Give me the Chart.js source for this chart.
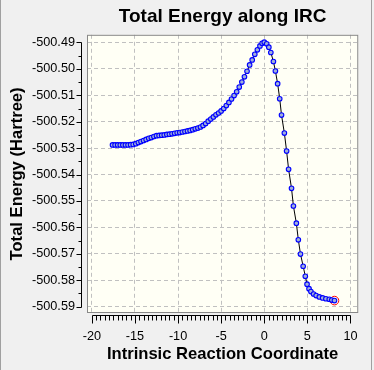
<!DOCTYPE html>
<html>
<head>
<meta charset="utf-8">
<title>Total Energy along IRC</title>
<script src="https://cdn.jsdelivr.net/npm/chart.js@4.4.1/dist/chart.umd.min.js"></script>
<style>
  html, body { margin: 0; padding: 0; background: #f0f0f0; }
  canvas { display: block; }
</style>
</head>
<body>
<canvas id="myChart" width="374" height="370"></canvas>
<script>
// IRC coordinate and total energy (Hartree)
const irc = [
  -17.6, -17.3, -17.0, -16.7, -16.4, -16.1, -15.8, -15.5, -15.2, -14.9,
  -14.6, -14.3, -14.0, -13.7, -13.4, -13.1, -12.8, -12.5, -12.2, -11.9,
  -11.6, -11.3, -11.0, -10.7, -10.4, -10.1, -9.8, -9.5, -9.2, -8.9,
  -8.6, -8.3, -8.0, -7.7, -7.4, -7.1, -6.8, -6.5, -6.2, -5.9,
  -5.6, -5.3, -5.0, -4.7, -4.4, -4.1, -3.8, -3.5, -3.2, -2.9,
  -2.6, -2.3, -2.0, -1.7, -1.4, -1.1, -0.8, -0.5, -0.25,
  0.0, 0.28, 0.53, 0.76, 1.06, 1.29, 1.55, 1.79, 2.0, 2.33,
  2.59, 2.82, 3.16, 3.38, 3.72, 3.95, 4.2, 4.51, 4.76, 4.96,
  5.19, 5.41, 5.72, 6.02, 6.39, 6.77, 7.15, 7.54, 7.83, 8.14,
];
const energy = [
  -500.5288, -500.5288, -500.5288, -500.5288, -500.5288, -500.5288, -500.5288, -500.5287, -500.5286, -500.5283,
  -500.5279, -500.5275, -500.5271, -500.5267, -500.5263, -500.526, -500.5256, -500.5253, -500.5252, -500.5251,
  -500.525, -500.5248, -500.5247, -500.5246, -500.5244, -500.5242, -500.5241, -500.5239, -500.5237, -500.5235,
  -500.5233, -500.523, -500.5227, -500.5224, -500.522, -500.5214, -500.5207, -500.5198, -500.519, -500.5182,
  -500.5174, -500.5167, -500.5159, -500.515, -500.5139, -500.5127, -500.5114, -500.5101, -500.5087, -500.5069,
  -500.505, -500.503, -500.5009, -500.4985, -500.4966, -500.4945, -500.4928, -500.4913, -500.4903,
  -500.4899, -500.4905, -500.4918, -500.4938, -500.4972, -500.5008, -500.5056, -500.5113, -500.5175, -500.5243,
  -500.5311, -500.538, -500.5452, -500.5519, -500.5584, -500.5647, -500.5701, -500.5747, -500.5785, -500.5815,
  -500.5832, -500.5843, -500.5852, -500.5858, -500.5863, -500.5867, -500.587, -500.5872, -500.5875, -500.5877,
];

const xTicks = [-20, -15, -10, -5, 0, 5, 10];
const yTicks = [-500.49, -500.50, -500.51, -500.52, -500.53, -500.54, -500.55, -500.56, -500.57, -500.58, -500.59];
const xMinorStep = 0.5;
const yMinorStep = 0.005;

const FONT = "'Liberation Sans', Arial, sans-serif";

const points = irc.map((x, i) => ({ x: x, y: energy[i] }));
const last = points[points.length - 1];

// background, plot area fill, window edges
const backdrop = {
  id: "backdrop",
  beforeDraw(chart) {
    const { ctx, chartArea: a, width, height } = chart;
    ctx.save();
    ctx.fillStyle = "#f0f0f0";
    ctx.fillRect(0, 0, width, height);
    ctx.fillStyle = "#fffff5";
    ctx.fillRect(a.left, a.top, a.right - a.left, a.bottom - a.top);
    ctx.strokeStyle = "#a0a0a0";
    ctx.lineWidth = 1;
    ctx.beginPath();
    ctx.moveTo(0.5, 0);
    ctx.lineTo(0.5, height);
    ctx.moveTo(371.5, 0);
    ctx.lineTo(371.5, height);
    ctx.stroke();
    ctx.restore();
  },
};

// plot frame and the ruler-style axes with minor ticks
const rulers = {
  id: "rulers",
  afterDraw(chart) {
    const { ctx, chartArea: a } = chart;
    const xs = chart.scales.x;
    const ys = chart.scales.y;
    ctx.save();
    ctx.lineWidth = 1;
    ctx.strokeStyle = "#888888";
    ctx.strokeRect(a.left + 0.5, a.top + 0.5, a.right - a.left - 1, a.bottom - a.top - 1);

    ctx.strokeStyle = "#000000";
    ctx.beginPath();
    // y ruler
    const yx = a.left - 5.5;
    const yTop = ys.getPixelForValue(yTicks[0]);
    const yBot = ys.getPixelForValue(yTicks[yTicks.length - 1]);
    ctx.moveTo(yx, Math.round(yTop) + 0.5);
    ctx.lineTo(yx, Math.round(yBot) + 0.5);
    const ny = Math.round((yTicks[0] - yTicks[yTicks.length - 1]) / yMinorStep);
    for (let k = 0; k <= ny; k++) {
      const py = Math.round(ys.getPixelForValue(yTicks[0] - k * yMinorStep)) + 0.5;
      const len = k % 2 === 0 ? 5 : 3;
      ctx.moveTo(yx, py);
      ctx.lineTo(yx - len, py);
    }
    // x ruler
    const xy = a.bottom + 2.5;
    const xL = xs.getPixelForValue(xTicks[0]);
    const xR = xs.getPixelForValue(xTicks[xTicks.length - 1]);
    ctx.moveTo(Math.round(xL) + 0.5, xy);
    ctx.lineTo(Math.round(xR) + 0.5, xy);
    const nx = Math.round((xTicks[xTicks.length - 1] - xTicks[0]) / xMinorStep);
    for (let k = 0; k <= nx; k++) {
      const px = Math.round(xs.getPixelForValue(xTicks[0] + k * xMinorStep)) + 0.5;
      const len = k % 10 === 0 ? 8 : 5;
      ctx.moveTo(px, xy);
      ctx.lineTo(px, xy + len);
    }
    ctx.stroke();
    ctx.restore();
  },
};

new Chart(document.getElementById("myChart").getContext("2d"), {
  type: "scatter",
  data: {
    datasets: [
      {
        label: "IRC",
        data: points,
        showLine: true,
        borderColor: "#000000",
        borderWidth: 1,
        pointRadius: 2.3,
        pointBorderWidth: 1.1,
        pointBackgroundColor: "#a0b0d8",
        pointBorderColor: "#0000ff",
      },
      {
        label: "current",
        data: [last],
        showLine: false,
        pointRadius: 4.3,
        pointBorderWidth: 1,
        pointBackgroundColor: "rgba(0,0,0,0)",
        pointBorderColor: "#ff0000",
      },
    ],
  },
  options: {
    responsive: false,
    animation: false,
    devicePixelRatio: 1,
    layout: { padding: { left: 0, right: 8, top: 0, bottom: 0 } },
    plugins: {
      legend: { display: false },
      tooltip: { enabled: false },
      title: {
        display: true,
        text: "Total Energy along IRC",
        color: "#000000",
        fullSize: false,
        font: { family: FONT, size: 19, weight: "bold" },
        padding: { top: 5, bottom: 7 },
      },
    },
    scales: {
      x: {
        type: "linear",
        min: -20.56,
        max: 10.9,
        afterBuildTicks: (s) => {
          s.ticks = xTicks.map((v) => ({ value: v }));
        },
        afterFit: (s) => {
          s.height = 57;
        },
        ticks: {
          autoSkip: false,
          maxRotation: 0,
          padding: 16,
          color: "#000000",
          font: { family: FONT, size: 12.7 },
          callback: (v) => String(v),
        },
        grid: { color: "#c0c0c0", lineWidth: 1, drawTicks: false },
        border: { display: false, dash: [4, 3] },
        title: {
          display: true,
          text: "Intrinsic Reaction Coordinate",
          color: "#000000",
          font: { family: FONT, size: 16.6, weight: "bold" },
          padding: { top: 0, bottom: 6 },
        },
      },
      y: {
        type: "linear",
        min: -500.5924,
        max: -500.4871,
        afterBuildTicks: (s) => {
          s.ticks = yTicks.map((v) => ({ value: v }));
        },
        afterFit: (s) => {
          s.width = 87;
        },
        ticks: {
          autoSkip: false,
          padding: 12,
          color: "#000000",
          font: { family: FONT, size: 12.7 },
          callback: (v) => v.toFixed(2),
        },
        grid: { color: "#c0c0c0", lineWidth: 1, drawTicks: false },
        border: { display: false, dash: [4, 3] },
        title: {
          display: true,
          text: "Total Energy (Hartree)",
          color: "#000000",
          font: { family: FONT, size: 16.6, weight: "bold" },
          padding: { top: 7.5, bottom: 0 },
        },
      },
    },
  },
  plugins: [backdrop, rulers],
});
</script>
</body>
</html>
